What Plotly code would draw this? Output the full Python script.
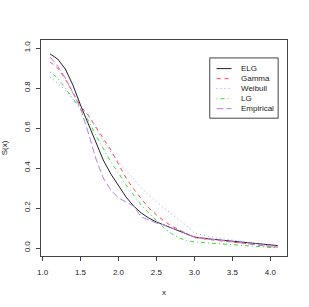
import plotly.graph_objects as go

x = [1.1, 1.2, 1.3, 1.4, 1.5, 1.6, 1.7, 1.8, 1.9, 2.0, 2.1, 2.2, 2.3, 2.4, 2.5,
     2.6, 2.7, 2.8, 2.9, 3.0, 3.2, 3.4, 3.6, 3.8, 4.0, 4.1]

elg = [0.97, 0.945, 0.895, 0.815, 0.715, 0.625, 0.53, 0.44, 0.37, 0.31, 0.255, 0.21, 0.175, 0.15, 0.13,
       0.115, 0.10, 0.083, 0.068, 0.055, 0.045, 0.037, 0.029, 0.022, 0.015, 0.012]
gamma = [0.93, 0.90, 0.845, 0.78, 0.71, 0.665, 0.605, 0.545, 0.49, 0.42, 0.35, 0.295, 0.245, 0.20, 0.166,
         0.135, 0.11, 0.09, 0.07, 0.052, 0.042, 0.034, 0.025, 0.017, 0.008, 0.004]
weibull = [0.855, 0.82, 0.79, 0.745, 0.70, 0.665, 0.60, 0.535, 0.48, 0.43, 0.385, 0.345, 0.30, 0.265, 0.23,
           0.20, 0.17, 0.14, 0.11, 0.075, 0.057, 0.045, 0.034, 0.024, 0.012, 0.007]
lg = [0.88, 0.85, 0.80, 0.745, 0.695, 0.64, 0.565, 0.495, 0.43, 0.375, 0.315, 0.265, 0.215, 0.175, 0.135,
      0.10, 0.072, 0.05, 0.037, 0.03, 0.025, 0.02, 0.015, 0.01, 0.004, 0.0]
empirical = [0.955, 0.91, 0.85, 0.775, 0.70, 0.58, 0.45, 0.35, 0.29, 0.25, 0.23, 0.21, 0.155, 0.14, 0.125,
             0.115, 0.10, 0.09, 0.07, 0.055, 0.045, 0.035, 0.025, 0.015, 0.006, 0.002]

names = ["ELG", "Gamma", "Weibull", "LG", "Empirical"]
series = [elg, gamma, weibull, lg, empirical]
colors = ["#222222", "#ff4444", "#9a9aff", "#33e033", "#c27ce8"]
dashes = ["solid", "4px,4px", "1px,3px", "1px,3px,4px,3px", "7px,3px"]

x_ticks = [1.0, 1.5, 2.0, 2.5, 3.0, 3.5, 4.0]
y_ticks = [0.0, 0.2, 0.4, 0.6, 0.8, 1.0]

fig = go.Figure()
for n, s, c, d in zip(names, series, colors, dashes):
    fig.add_trace(go.Scatter(x=x, y=s, mode="lines", name=n,
                             line=dict(color=c, width=1, dash=d), showlegend=False))

# manual R-style legend
lx0, lx1, ly0, ly1 = 0.686, 0.964, 0.638, 0.917
shapes = [dict(type="rect", xref="paper", yref="paper", x0=lx0, x1=lx1, y0=ly0, y1=ly1,
               line=dict(color="#444444", width=1), fillcolor="white")]
annotations = []
entry_y = [0.8676, 0.821, 0.775, 0.728, 0.682]
for n, c, d, yy in zip(names, colors, dashes, entry_y):
    shapes.append(dict(type="line", xref="paper", yref="paper", x0=0.7137, x1=0.7748, y0=yy, y1=yy,
                       line=dict(color=c, width=1, dash=d)))
    annotations.append(dict(xref="paper", yref="paper", x=0.8057, y=yy, text=n, showarrow=False,
                            xanchor="left", yanchor="middle",
                            font=dict(size=8, color="#222222", family="Liberation Sans")))

fig.update_layout(
    width=309, height=307,
    margin=dict(l=41, r=22, t=40, b=51),
    paper_bgcolor="white", plot_bgcolor="white",
    font=dict(family="Liberation Sans", size=8, color="#222222"),
    shapes=shapes, annotations=annotations,
    showlegend=False,
    xaxis=dict(range=[0.98, 4.22], tickvals=x_ticks, ticktext=[f"{v:.1f}" for v in x_ticks],
               showgrid=False, zeroline=False, showline=True, mirror=True, linecolor="#444444",
               linewidth=1, ticks="outside", ticklen=4, tickcolor="#444444", ticklabelstandoff=4,
               automargin=False,
               title=dict(text="x", font=dict(size=8), standoff=13)),
    yaxis=dict(range=[-0.04, 1.04], tickvals=y_ticks, ticktext=[f"{v:.1f}" for v in y_ticks],
               showgrid=False, zeroline=False, showline=True, mirror=True, linecolor="#444444",
               linewidth=1, ticks="outside", ticklen=4, tickcolor="#444444", tickangle=-90,
               ticklabelstandoff=3, automargin=False,
               title=dict(text="S(x)", font=dict(size=8), standoff=22)),
)

fig.write_html("out.html", config={"displayModeBar": False},
               post_script="document.body.style.margin='0';")
